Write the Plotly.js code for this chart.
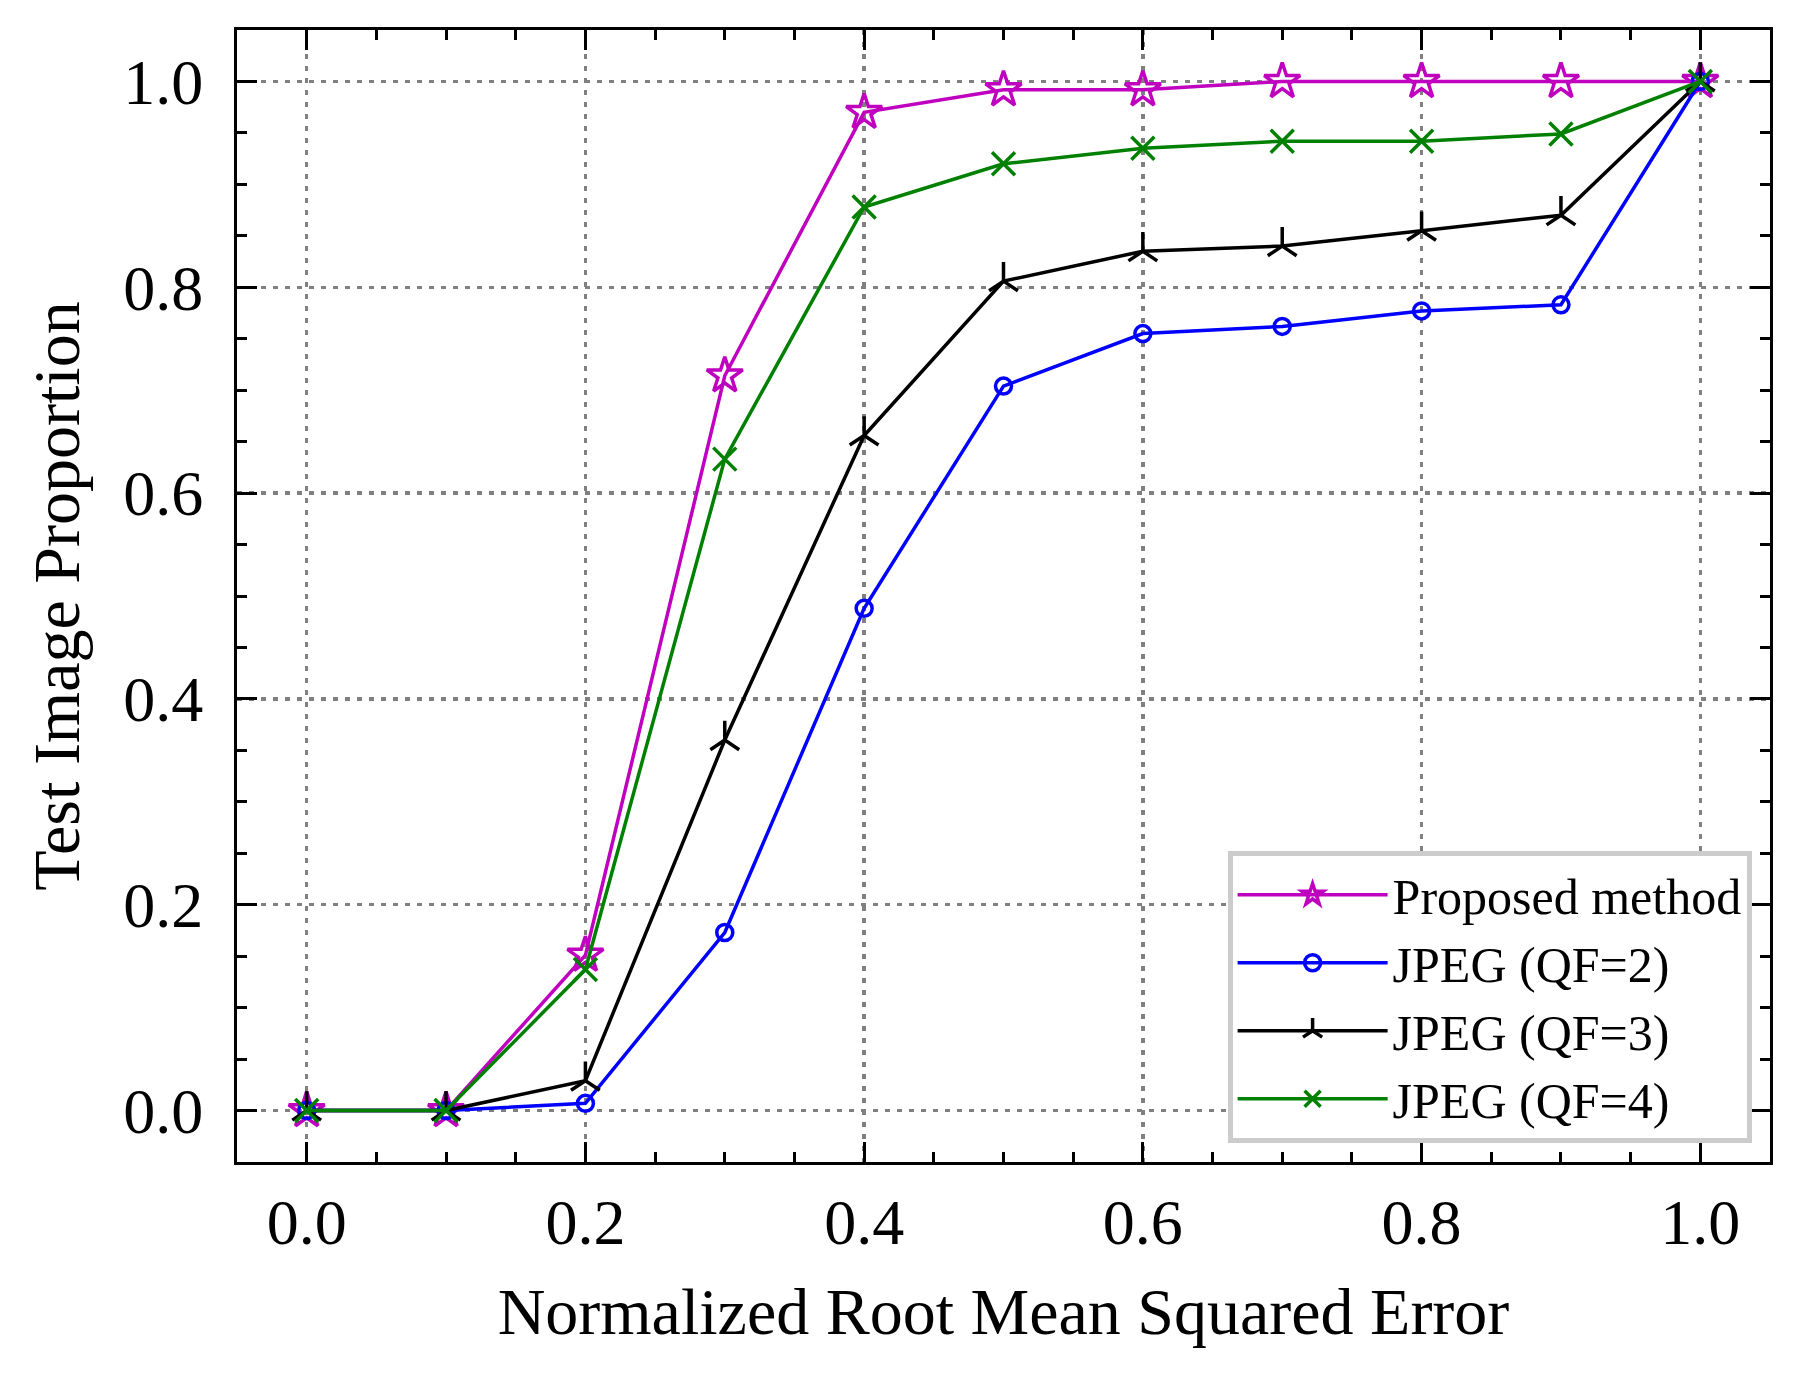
<!DOCTYPE html>
<html>
<head>
<meta charset="utf-8">
<script src="https://cdn.plot.ly/plotly-3.0.1.min.js"></script>
<style>
  html,body{margin:0;padding:0;background:#fff;}
  #chart{width:1801px;height:1377px;}
</style>
</head>
<body>
<div id="chart"></div>
<script>
// NRMSE thresholds (x) and proportion of test images (y)
const NRMSE = [0.0,0.1,0.2,0.3,0.4,0.5,0.6,0.7,0.8,0.9,1.0];
const PROPOSED = [0,0,0.151,0.714,0.970,0.992,0.992,1.0,1.0,1.0,1.0];
const JPEG_QF2 = [0,0,0.007,0.173,0.488,0.704,0.755,0.762,0.777,0.783,1.0];
const JPEG_QF3 = [0,0,0.029,0.360,0.656,0.806,0.835,0.840,0.855,0.870,1.0];
const JPEG_QF4 = [0,0,0.137,0.633,0.878,0.920,0.935,0.942,0.942,0.949,1.0];
const NAMES = ['Proposed method','JPEG (QF=2)','JPEG (QF=3)','JPEG (QF=4)'];

const FONT = 'Liberation Serif, Times New Roman, serif';

function tr(y, name, color, symbol, size) {
  return {
    x: NRMSE, y: y, name: name, type: 'scatter', mode: 'lines+markers',
    line: {color: color, width: 3.5},
    marker: {symbol: symbol, size: size, color: color, line: {color: color, width: 3.5}}
  };
}

const traces = [
  tr(PROPOSED, NAMES[0], '#bf00bf', 'star-open', 27),
  tr(JPEG_QF2, NAMES[1], '#0000ff', 'circle-open', 16),
  tr(JPEG_QF3, NAMES[2], '#000000', 'y-up', 24),
  tr(JPEG_QF4, NAMES[3], '#008000', 'x-thin', 23)
];

const AX = {
  showline: true, linecolor: '#000', linewidth: 3, mirror: 'allticks',
  ticks: 'inside', ticklen: 20, tickwidth: 3, tickcolor: '#000',
  dtick: 0.2, tick0: 0, tickformat: '.1f',
  tickfont: {size: 64, color: '#000', family: FONT},
  showgrid: true, gridcolor: '#808080', gridwidth: 3.5, griddash: '5px,7px',
  zeroline: false,
  minor: {dtick: 0.05, tick0: 0, ticks: 'inside', ticklen: 10, tickwidth: 3, tickcolor: '#000', showgrid: false}
};

const layout = {
  width: 1801, height: 1377,
  paper_bgcolor: '#fff', plot_bgcolor: '#fff',
  font: {family: FONT, color: '#000'},
  margin: {l: 237, r: 31, t: 30, b: 215},
  showlegend: true,
  xaxis: {...AX, range: [-0.05, 1.05], ticklabelstandoff: 2,
    title: {text: 'Normalized Root Mean Squared Error', font: {size: 66, family: FONT, color: '#000'}, standoff: 32}},
  yaxis: {...AX, range: [-0.05, 1.05], ticklabelstandoff: 18,
    title: {text: 'Test Image Proportion', font: {size: 66, family: FONT, color: '#000'}, standoff: 23}},
  legend: {
    x: 0.988, y: 0.017, xanchor: 'right', yanchor: 'bottom',
    bgcolor: '#fff', bordercolor: '#cccccc', borderwidth: 5,
    font: {size: 50, family: FONT, color: '#000'},
    itemwidth: 150
  }
};

Plotly.newPlot('chart', traces, layout, {displayModeBar: false, staticPlot: true});
</script>
</body>
</html>
